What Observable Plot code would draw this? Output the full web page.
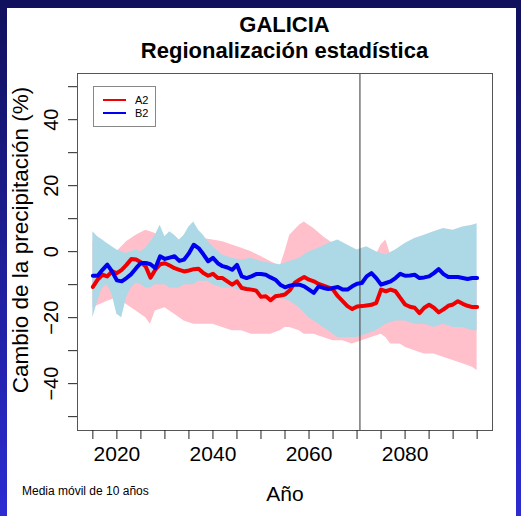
<!DOCTYPE html>
<html><head><meta charset="utf-8">
<script src="https://cdn.jsdelivr.net/npm/d3@7"></script>
<script src="https://cdn.jsdelivr.net/npm/@observablehq/plot@0.6"></script>
<style>
html,body{margin:0;padding:0;}
body{width:521px;height:516px;overflow:hidden;font-family:"Liberation Sans",Arial,Helvetica,sans-serif;}
#page{position:relative;width:521px;height:516px;background:linear-gradient(#10105c,#2c2cd2);}
#panel{position:absolute;left:7px;top:8px;width:509px;height:508px;background:#fff;}
#chart{position:absolute;left:0;top:0;}
.t{position:absolute;left:0;width:569px;text-align:center;font-weight:bold;font-size:22px;line-height:22px;color:#000;white-space:nowrap;}
#caption{position:absolute;left:22px;top:485px;font-size:12px;line-height:12px;color:#000;white-space:nowrap;}
#legend{position:absolute;left:93px;top:86px;width:63px;height:41px;border:1px solid #888;box-sizing:border-box;background:#fff;}
#legend .sw{position:absolute;left:9px;width:23px;height:2px;}
#legend .lb{position:absolute;left:41px;font-size:11px;line-height:11px;color:#000;}
</style>
</head><body>
<div id="page">
  <div id="panel"></div>
  <div id="chart"></div>
  <div class="t" style="top:14px">GALICIA</div>
  <div class="t" style="top:40px">Regionalización estadística</div>
  <div id="caption">Media móvil de 10 años</div>
  <div id="legend"></div>
</div>
<script>
// ---- data ----
const title = "GALICIA";
const subtitle = "Regionalización estadística";
const seriesNames = ["A2", "B2"];
const seriesColors = ["#f00000", "#0000f0"];
const bandColors = ["#FFC0CB", "#ADD8E6"];

const lineStartYear = 2015;
const lineA2 = [
  -10.7, -8.5, -7, -7.5, -6, -6.5, -5.5, -4, -2.2, -2.4,
  -3.2, -4.5, -7.9, -5.5, -3.8, -3.5, -4.2, -5, -5.5, -6,
  -5.7, -5.3, -5.2, -6.5, -7.3, -6.7, -8, -8, -9, -10,
  -9, -11, -11.3, -11.5, -11.8, -13.7, -13.5, -14.7, -13.5, -13.3,
  -13, -11.7, -9.5, -8.5, -7.7, -8.5, -9, -9.8, -10.3, -10.8,
  -11.5, -13.5, -15, -16.5, -17.4, -16.6, -16.5, -16.3, -16.1, -15.5,
  -11.5, -12, -11.5, -12, -14, -16, -16.7, -17, -18.6, -17,
  -16.1, -17, -18.4, -17.5, -16.4, -16, -15, -15.8, -16.4, -16.8,
  -16.8
];
const lineB2 = [
  -7.3, -7.3, -5.5, -3.9, -6, -8.7, -9, -8, -6.8, -5,
  -3.4, -3.4, -3.8, -5, -1.4, -2.2, -1.8, -1.4, -2.8, -2.4,
  -0.5, 2.1, 1.1, -0.8, -2.9, -1.9, -3.5, -4.4, -4.8, -5.5,
  -4, -7.5, -8, -7.5, -6.8, -6.8, -7, -7.8, -8.5, -10,
  -10.8, -10.3, -10, -10, -10.5, -11.5, -12.5, -10.5, -11, -11.3,
  -11, -10.7, -11.5, -11.5, -10.5, -9.7, -9.5, -7.5, -6.5, -8,
  -10, -9.5, -9, -8, -6.7, -7.3, -7.2, -7, -8, -7.8,
  -7.5, -6.5, -5.3, -6.8, -7.7, -7.7, -7.7, -8, -8.3, -8,
  -8
];

const bandYearsA2 = [2015,2018,2020,2022,2024, 2026,2027,2028,2030,2032, 2034,2036,2038,2040,2042,
  2044,2046,2048,2050,2052, 2054,2055,2056,2058,2059, 2061,2063,2065,2067,2069,
  2071,2073,2075,2076,2077, 2079,2080,2082,2084,2086, 2088,2090,2092,2094,2095];
const bandHiA2 = [3,2,0,3,5, 6.5,6,5.5,4,3.5, 3.5,4,4,3.5,3, 2,1,0,-1.5,-3, -4.5,0,5,8,9,
  7,4.5,2.5,0,-2, -3,-4,2,3.5,-1, 1,-2,-5,-6,-6, -6,-6,-7,-7,-7];
const bandLoA2 = [-17,-15,-14,-16,-18, -20,-22,-18,-17,-19, -21,-22,-22,-22,-23, -24,-24,-25,-25,-25,
  -24,-23,-23,-24,-25, -25,-26,-27,-27,-28, -27,-26,-25,-26,-28, -28,-29,-30,-31,-31,
  -32,-33,-34,-35,-36];

const bandYearsB2 = [2015,2016,2017,2018,2019,2020,2021,2022,2023,2024,
  2025,2026,2027,2028,2029,2030,2031,2032,2033,2034,
  2035,2036,2037,2038,2039,2040,
  2042,2044,2046,2048,2050,2052,2054,2056,2058,2060,
  2062,2064,2066,2068,2070,2072,2074,2076,2078,2080,
  2082,2084,2086,2088,2090,2092,2094,2095];
const bandHiB2 = [6,4.5,3.5,2.5,1.5,0.5,0,-0.5,0,0.5,
  0,1,3,5,8,4.5,6,5,3.5,5,
  7.5,9,6.5,5,3,1.5,
  -1,-2,-2.5,-2,-3,-3.5,-4,-3,-2,0,
  1,2.5,3.5,2,0.5,1.5,0,-1,0.5,2.5,
  4,5,6,7,6.5,7.5,8,8.5];
const bandLoB2 = [-20,-15,-11,-10,-13,-19,-20,-14,-11,-9.5,
  -10,-11,-11,-10,-10,-10,-11,-11,-11,-10,
  -10,-10,-9,-9,-9,-10,
  -11,-11,-12,-12,-13,-13,-14,-15,-17,-20,
  -22,-24,-26,-26,-26,-25,-24,-22,-21,-21,
  -22,-22,-23,-22,-23,-23,-24,-24];

const refYear = 2070.6;
const xTicks = [2015,2020,2025,2030,2035,2040,2045,2050,2055,2060,2065,2070,2075,2080,2085,2090,2095];
const xTickLabels = [2020, 2040, 2060, 2080];
const yTicks = [-50,-40,-30,-20,-10,0,10,20,30,40,50];
const yTickLabels = [-40, -20, 0, 20, 40];
const xLabel = "Año";
const yLabel = "Cambio de la precipitación (%)";
const caption = "Media móvil de 10 años";

// ---- build tables ----
const toLine = (arr) => arr.map((v, i) => ({year: lineStartYear + i, value: v}));
const toBand = (yrs, lo, hi) => yrs.map((y, i) => ({year: y, lo: lo[i], hi: hi[i]}));
const dataA2 = toLine(lineA2), dataB2 = toLine(lineB2);
const bandA2 = toBand(bandYearsA2, bandLoA2, bandHiA2);
const bandB2 = toBand(bandYearsB2, bandLoB2, bandHiB2);

const font = '"Liberation Sans", Arial, Helvetica, sans-serif';
const chart = Plot.plot({
  width: 521, height: 516,
  marginLeft: 77, marginRight: 29, marginTop: 73, marginBottom: 86,
  x: {domain: [2011.8, 2098.2]},
  y: {domain: [-54.2, 54]},
  style: {background: "transparent", fontFamily: font, color: "#000", overflow: "visible"},
  marks: [
    Plot.areaY(bandA2, {x: "year", y1: "lo", y2: "hi", fill: bandColors[0]}),
    Plot.areaY(bandB2, {x: "year", y1: "lo", y2: "hi", fill: bandColors[1]}),
    Plot.ruleX([refYear], {stroke: "#555", strokeWidth: 1.2}),
    Plot.line(dataA2, {x: "year", y: "value", stroke: seriesColors[0], strokeWidth: 4}),
    Plot.line(dataB2, {x: "year", y: "value", stroke: seriesColors[1], strokeWidth: 4}),
    Plot.frame({stroke: "#555"}),
    Plot.axisX({ticks: xTicks, tickSize: 9, tickPadding: 7, fontSize: 21, label: null,
      stroke: "#222", tickFormat: d => xTickLabels.includes(d) ? String(d) : ""}),
    Plot.axisY({ticks: yTicks, tickSize: 9, label: null, stroke: "#222", tickFormat: () => ""}),
    Plot.text(yTickLabels, {y: d => d, text: d => (d < 0 ? "\u2212" + Math.abs(d) : String(d)),
      frameAnchor: "left", textAnchor: "middle", lineAnchor: "middle", dx: -26, rotate: -90, fontSize: 20}),
    Plot.text([yLabel], {text: d => d, frameAnchor: "left", textAnchor: "middle", lineAnchor: "middle",
      dx: -57, dy: -12, rotate: -90, fontSize: 22.5}),
    Plot.text([xLabel], {text: d => d, frameAnchor: "bottom", textAnchor: "middle", lineAnchor: "middle",
      dy: 64, fontSize: 21})
  ]
});
document.getElementById("chart").appendChild(chart);

// legend
const lg = document.getElementById("legend");
seriesNames.forEach((name, i) => {
  const sw = document.createElement("div");
  sw.className = "sw";
  sw.style.top = (12 + 13 * i) + "px";
  sw.style.background = seriesColors[i];
  lg.appendChild(sw);
  const lb = document.createElement("div");
  lb.className = "lb";
  lb.style.top = (7.5 + 13 * i) + "px";
  lb.textContent = name;
  lg.appendChild(lb);
});
</script>
</body></html>
